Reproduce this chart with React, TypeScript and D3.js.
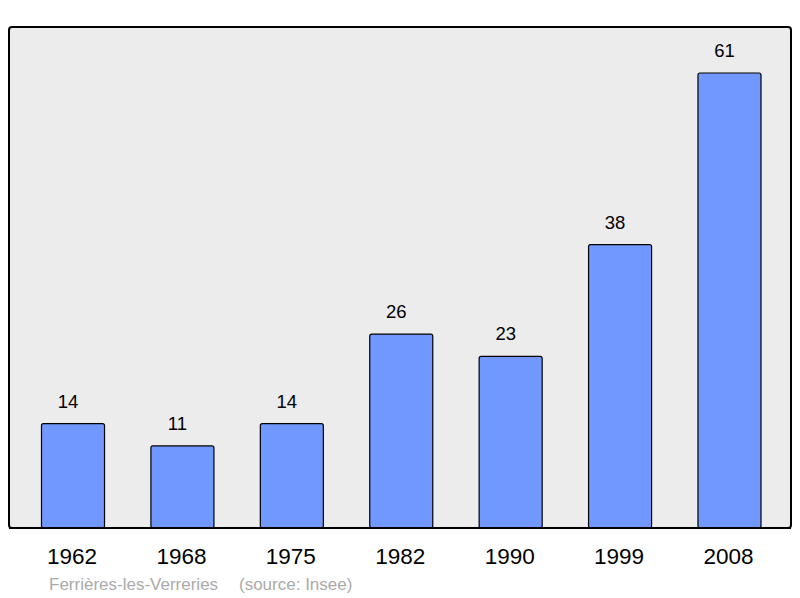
import React from 'react';
import * as d3 from 'd3';

const years = ['1962', '1968', '1975', '1982', '1990', '1999', '2008'];
const population = [14, 11, 14, 26, 23, 38, 61];
const commune = 'Ferrières-les-Verreries';
const source = '(source: Insee)';

export default function App() {
  const width = 800;
  const height = 598;
  const panel = { x: 9, y: 27, w: 782, h: 501 };

  const x = d3.scaleBand<string>()
    .domain(years)
    .range([18.3, 784.2])
    .paddingInner(0.424)
    .paddingOuter(0.212);

  const y = d3.scaleLinear().domain([0, 61]).range([528, 73]);

  const font = 'Liberation Sans, Arial, sans-serif';

  return (
    <svg width={width} height={height} style={{ position: 'absolute', left: 0, top: 0 }}>
      <rect x={panel.x} y={panel.y} width={panel.w} height={panel.h} rx={3}
        fill="#ececec" stroke="#000" strokeWidth={2} />
      {years.map((yr, i) => {
        const v = population[i];
        const bx = x(yr)!;
        const cx = bx + x.bandwidth() / 2;
        return (
          <g key={yr}>
            <rect x={bx} y={y(v)} width={x.bandwidth()} height={y(0) - y(v)} rx={2}
              fill="#7098ff" stroke="#000" strokeWidth={1.2} />
            <text x={cx - 5} y={y(v) - 16} textAnchor="middle" fontSize={18.5}
              fontFamily={font} fill="#000">{v}</text>
            <text x={cx - 1} y={564} textAnchor="middle" fontSize={22.5}
              fontFamily={font} fill="#000">{yr}</text>
          </g>
        );
      })}
      <line x1={panel.x} x2={panel.x + panel.w} y1={528} y2={528} stroke="#000" strokeWidth={2} />
      <text x={49} y={590} fontSize={17} fontFamily={font} fill="#aaaaaa">{commune}</text>
      <text x={239} y={590} fontSize={17} fontFamily={font} fill="#aaaaaa">{source}</text>
    </svg>
  );
}
